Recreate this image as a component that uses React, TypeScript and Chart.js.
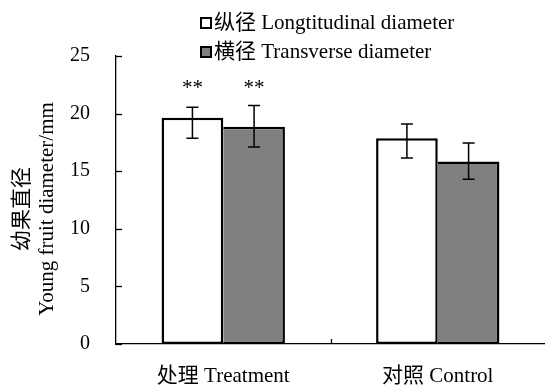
import React, { useEffect, useRef } from 'react';
import { Chart, registerables } from 'chart.js';

Chart.register(...registerables);

// ---- data ----
const categories = ['处理 Treatment', '对照 Control'];
const seriesLabels = ['纵径 Longtitudinal diameter', '横径 Transverse diameter'];
const longMean = [19.65, 17.85];
const longErrPlus = [0.9, 1.25];
const longErrMinus = [1.8, 1.7];
const transMean = [18.85, 15.85];
const transErrPlus = [1.85, 1.6];
const transErrMinus = [1.75, 1.55];
const significance = ['**', ''];
const yTicks = [0, 5, 10, 15, 20, 25];
const yTitleLines = ['幼果直径', 'Young fruit diameter/mm'];

const FONT = '"Liberation Serif", "Times New Roman", "Noto Sans CJK SC", serif';
const errPlus = [longErrPlus, transErrPlus];
const errMinus = [longErrMinus, transErrMinus];

const extrasPlugin = {
  id: 'extras',
  afterDatasetsDraw(chart: any) {
    const ctx = chart.ctx as CanvasRenderingContext2D;
    const y = chart.scales.y;
    const x = chart.scales.x;
    const area = chart.chartArea;
    ctx.save();
    // error bars
    ctx.strokeStyle = '#000';
    ctx.lineWidth = 1.5;
    const groupTop: number[] = categories.map(() => Infinity);
    chart.data.datasets.forEach((ds: any, i: number) => {
      const meta = chart.getDatasetMeta(i);
      meta.data.forEach((bar: any, j: number) => {
        const v = ds.data[j] as number;
        const yt = y.getPixelForValue(v + errPlus[i][j]);
        const yb = y.getPixelForValue(v - errMinus[i][j]);
        groupTop[j] = Math.min(groupTop[j], yt);
        ctx.beginPath();
        ctx.moveTo(bar.x, yt);
        ctx.lineTo(bar.x, yb);
        ctx.moveTo(bar.x - 6, yt);
        ctx.lineTo(bar.x + 6, yt);
        ctx.moveTo(bar.x - 6, yb);
        ctx.lineTo(bar.x + 6, yb);
        ctx.stroke();
      });
    });
    // significance marks
    ctx.fillStyle = '#000';
    ctx.font = `21px ${FONT}`;
    ctx.textAlign = 'center';
    ctx.textBaseline = 'alphabetic';
    chart.data.datasets.forEach((_ds: any, i: number) => {
      const meta = chart.getDatasetMeta(i);
      meta.data.forEach((bar: any, j: number) => {
        if (significance[j]) ctx.fillText(significance[j], bar.x, groupTop[j] - 12);
      });
    });
    // inward y ticks
    ctx.lineWidth = 1.3;
    yTicks.forEach((t) => {
      const py = Math.round(y.getPixelForValue(t)) + 0.5;
      ctx.beginPath();
      ctx.moveTo(area.left, py);
      ctx.lineTo(area.left + 6, py);
      ctx.stroke();
    });
    // inward x tick between categories
    for (let k = 0; k < categories.length - 1; k++) {
      const px = Math.round(x.getPixelForValue(k + 0.5)) + 0.5;
      ctx.beginPath();
      ctx.moveTo(px, area.bottom);
      ctx.lineTo(px, area.bottom - 5);
      ctx.stroke();
    }
    // y title (two lines, rotated)
    ctx.font = `21px ${FONT}`;
    ctx.textBaseline = 'middle';
    ctx.textAlign = 'center';
    yTitleLines.forEach((line, k) => {
      ctx.save();
      ctx.translate(22 + k * 25, 209);
      ctx.rotate(-Math.PI / 2);
      ctx.fillText(line, 0, 0);
      ctx.restore();
    });
    // legend
    ctx.textAlign = 'left';
    chart.data.datasets.forEach((ds: any, i: number) => {
      const cy = 23 + i * 29;
      ctx.fillStyle = ds.backgroundColor;
      ctx.fillRect(201, cy - 5, 10, 10);
      ctx.strokeStyle = '#000';
      ctx.lineWidth = 2;
      ctx.strokeRect(201, cy - 5, 10, 10);
      ctx.fillStyle = '#000';
      ctx.fillText(ds.label, 214, cy);
    });
    ctx.restore();
  },
};

export default function App() {
  const ref = useRef<HTMLCanvasElement>(null);
  useEffect(() => {
    const chart = new Chart(ref.current!, {
      type: 'bar',
      data: {
        labels: categories,
        datasets: [
          {
            label: seriesLabels[0],
            data: longMean,
            backgroundColor: '#ffffff',
            borderColor: '#000000',
            borderWidth: 2.5,
            borderSkipped: false,
            barPercentage: 1,
            categoryPercentage: 0.575,
          },
          {
            label: seriesLabels[1],
            data: transMean,
            backgroundColor: '#808080',
            borderColor: '#000000',
            borderWidth: 2.5,
            borderSkipped: 'left',
            barPercentage: 1,
            categoryPercentage: 0.575,
          },
        ],
      },
      options: {
        responsive: false,
        animation: false,
        devicePixelRatio: 1,
        layout: { padding: { top: 56, right: 0, left: 0, bottom: 0 } },
        plugins: {
          legend: { display: false },
          tooltip: { enabled: false },
        },
        scales: {
          x: {
            grid: { display: false, drawTicks: false },
            border: { display: true, color: '#000', width: 1.3 },
            ticks: {
              color: '#000',
              padding: 20,
              font: { family: FONT, size: 21 },
              maxRotation: 0,
            },
            afterFit: (s: any) => {
              s.height = 43;
            },
          },
          y: {
            min: 0,
            max: 25,
            grid: { display: false, drawTicks: false },
            border: { display: true, color: '#000', width: 1.3 },
            ticks: {
              stepSize: 5,
              color: '#000',
              padding: 26,
              font: { family: FONT, size: 20 },
            },
            afterFit: (s: any) => {
              s.width = 116;
            },
          },
        },
      },
      plugins: [extrasPlugin],
    } as any);
    return () => chart.destroy();
  }, []);
  return (
    <div style={{ position: 'absolute', left: 0, top: 0, width: 545, height: 387, background: '#fff' }}>
      <canvas ref={ref} width={545} height={387} style={{ display: 'block', width: 545, height: 387 }} />
    </div>
  );
}
